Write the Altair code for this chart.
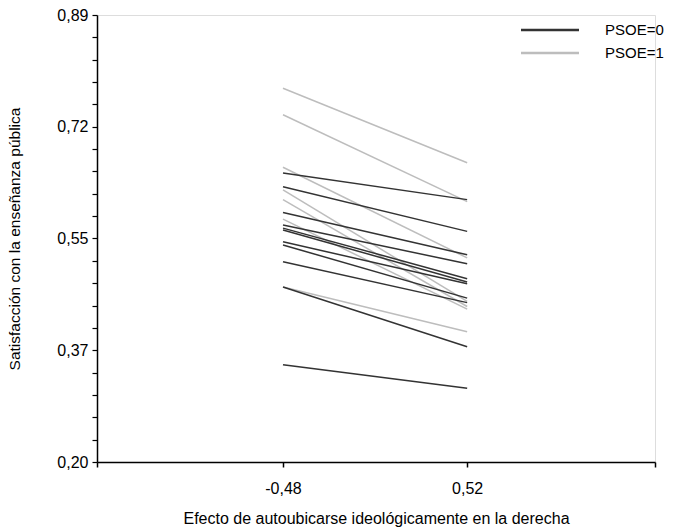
import altair as alt
import pandas as pd

# Effect points on the x axis
x_points = [-0.48, 0.52]

# PSOE=1 (gray) lines: predicted value at x=-0.48 and at x=0.52
gray_left = [0.777, 0.736, 0.655, 0.620, 0.605, 0.575, 0.470]
gray_right = [0.662, 0.602, 0.515, 0.448, 0.440, 0.436, 0.401]

# PSOE=0 (dark) lines
dark_left = [0.646, 0.625, 0.585, 0.566, 0.561, 0.558, 0.540, 0.535, 0.509, 0.470, 0.350]
dark_right = [0.605, 0.556, 0.520, 0.506, 0.483, 0.478, 0.475, 0.453, 0.446, 0.378, 0.314]

groups = ["PSOE=0", "PSOE=1"]
colors = ["#333333", "#bdbdbd"]

y_ticks = [round(0.20 + 0.0345 * k, 4) for k in range(21)]
x_ticks = [-1.49, -0.48, 0.52, 1.54]

rows = []
for i, (a, b) in enumerate(zip(gray_left, gray_right)):
    rows.append({"id": f"g{i}", "grupo": groups[1], "x": x_points[0], "y": a, "o": 0})
    rows.append({"id": f"g{i}", "grupo": groups[1], "x": x_points[1], "y": b, "o": 0})
for i, (a, b) in enumerate(zip(dark_left, dark_right)):
    rows.append({"id": f"d{i}", "grupo": groups[0], "x": x_points[0], "y": a, "o": 1})
    rows.append({"id": f"d{i}", "grupo": groups[0], "x": x_points[1], "y": b, "o": 1})
df = pd.DataFrame(rows)

FONT = "Liberation Sans"

y_label_expr = (
    "(round((datum.value-0.2)/0.0345) % 5 == 0) ? "
    "replace(format(datum.value+0.0001,'.2f'),'.',',') : ''"
)
x_label_expr = (
    "abs(datum.value+0.48) < 0.001 ? '-0,48' : "
    "(abs(datum.value-0.52) < 0.001 ? '0,52' : '')"
)

chart = alt.Chart(df).mark_line(strokeWidth=1.5).encode(
    x=alt.X(
        "x:Q",
        scale=alt.Scale(domain=[-1.49, 1.54], nice=False, zero=False),
        axis=alt.Axis(
            values=x_ticks,
            labelExpr=x_label_expr,
            title="Efecto de autoubicarse ideológicamente en la derecha",
            grid=False,
            domainColor="black",
            domainWidth=1.5,
            tickColor="black",
            tickWidth=1.5,
            tickSize=5,
            labelPadding=13,
            labelFontSize=16,
            labelFont=FONT,
            labelColor="black",
            titleFont=FONT,
            titleFontSize=16,
            titleFontWeight="normal",
            titleColor="black",
            titleY=61,
            titleBaseline="alphabetic",
        ),
    ),
    y=alt.Y(
        "y:Q",
        scale=alt.Scale(domain=[0.20, 0.89], nice=False, zero=False),
        axis=alt.Axis(
            values=y_ticks,
            labelExpr=y_label_expr,
            title="Satisfacción con la enseñanza pública",
            grid=False,
            domainColor="black",
            domainWidth=1.5,
            tickColor="black",
            tickWidth=1.2,
            tickSize=5,
            labelPadding=4,
            labelFontSize=16,
            labelFont=FONT,
            labelColor="black",
            titleFont=FONT,
            titleFontSize=15.5,
            titleFontWeight="normal",
            titleColor="black",
            titleAngle=-90,
            titleX=-90,
            titleBaseline="top",
        ),
    ),
    color=alt.Color(
        "grupo:N",
        scale=alt.Scale(domain=groups, range=colors),
        legend=alt.Legend(
            title=None,
            orient="none",
            legendX=440,
            legendY=2,
            symbolType="M-2.5,0L2.5,0",
            symbolSize=538,
            symbolStrokeWidth=2.5,
            labelFontSize=15,
            labelFont=FONT,
            labelColor="black",
            labelOffset=42,
            rowPadding=2,
        ),
    ),
    detail="id:N",
    order="o:Q",
).properties(
    width=558,
    height=447,
    autosize=alt.AutoSizeParams(type="none"),
    padding={"left": 97, "top": 15, "right": 23, "bottom": 65},
).configure_view(stroke=None).configure(background="white")

chart.save("out.html", embed_options={"renderer": "svg", "actions": False})
